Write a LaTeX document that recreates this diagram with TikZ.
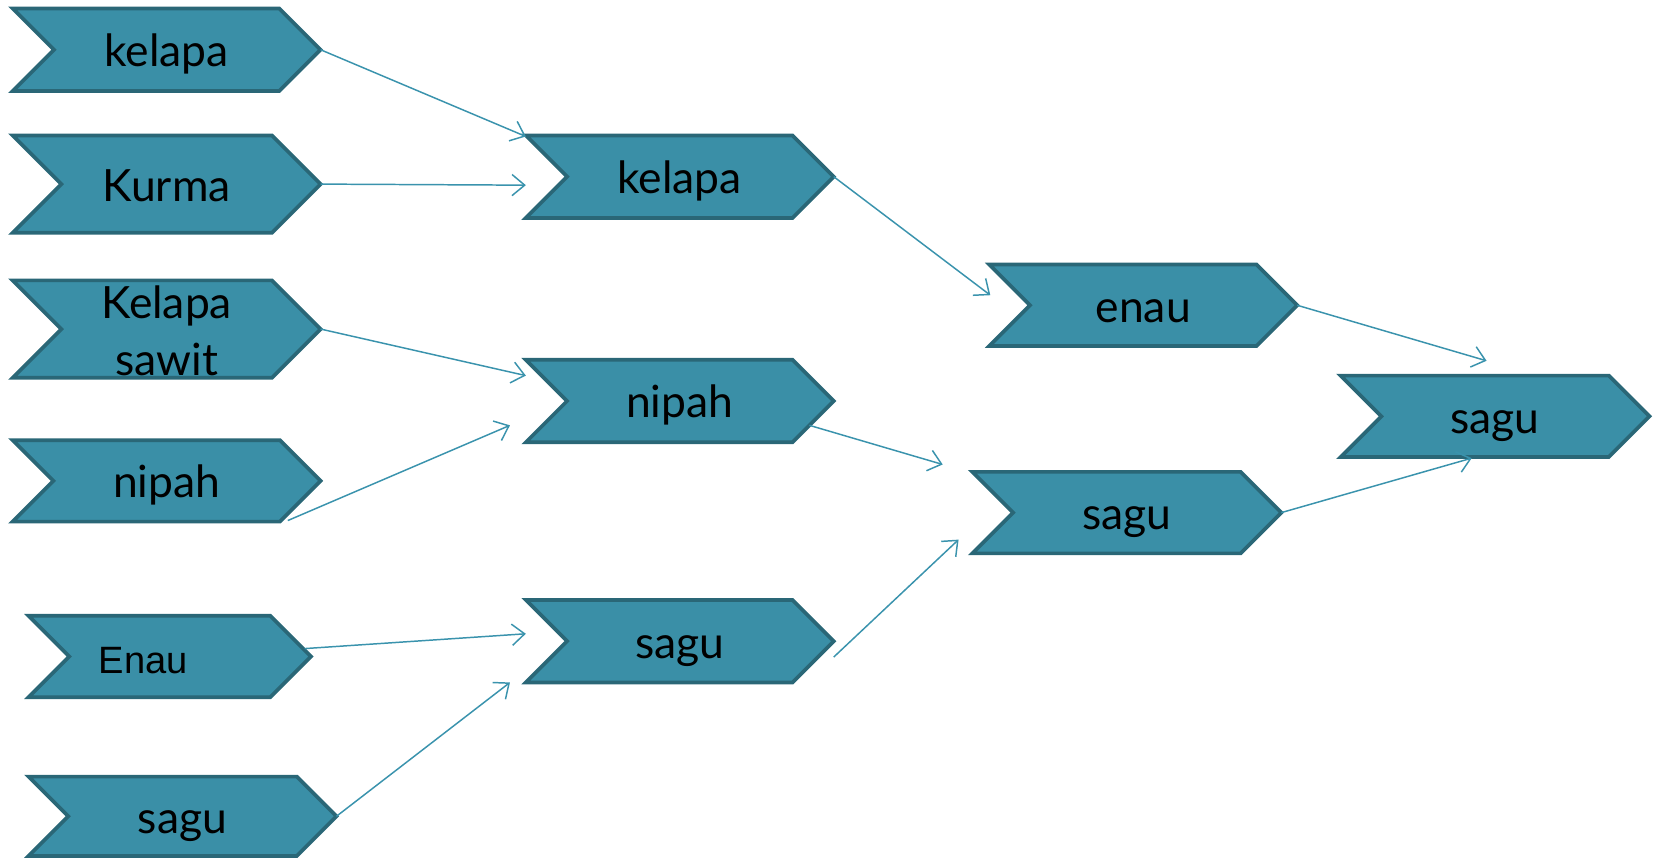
\documentclass[tikz,border=0pt]{standalone}
\usepackage{fontspec}
\setmainfont{Lato}
\newfontfamily\enaufont{Liberation Sans}
\usetikzlibrary{arrows.meta}

\definecolor{chevfill}{HTML}{3A8FA7}
\definecolor{chevline}{HTML}{2A6777}
\definecolor{linkcol}{HTML}{3A93AD}

\tikzset{
  chevshape/.style={fill=chevfill, draw=chevline, line width=3.5pt, line join=miter},
  chevlabel/.style={inner sep=0pt, text=black, align=center, anchor=base,
                    font=\fontsize{42}{54}\selectfont},
  link/.style={draw=linkcol, line width=1.4pt,
               -{Straight Barb[length=12pt,width=20pt]}}
}

% chevron: [label options]{name}{left}{top}{tip x}{bottom}{text}
% the label sits on a baseline 16pt below the middle of the chevron
\newcommand\chev[7][]{%
  \pgfmathsetmacro\chevhalf{(#6-#4)/2}%
  \draw[chevshape] (#3,#4) -- ({#5-\chevhalf},#4) -- (#5,{#4+\chevhalf})
    -- ({#5-\chevhalf},#6) -- (#3,#6) -- ({#3+\chevhalf},{#4+\chevhalf}) -- cycle;
  \node[chevlabel,#1] (#2) at ({(#3+#5)/2},{(#4+#6)/2+16}) {#7};
  \coordinate (#2-tip) at (#5,{#4+\chevhalf});
}

\begin{document}
\begin{tikzpicture}[x=1pt,y=-1pt]
\useasboundingbox (0,0) rectangle (1568,812);

% first column
\chev{b1}{12}{8}{303}{86}{kelapa}
\chev{b2}{12}{128}{303}{220}{Kurma}
\chev[anchor=center, yshift=14pt]{b3}{12}{265}{303}{357}{Kelapa\\sawit}
\chev{b4}{12}{416}{303}{493}{nipah}
\chev[font=\enaufont\fontsize{36}{40}\selectfont, xshift=-25pt]{b5}{27}{582}{294}{659}{Enau}
\chev{b6}{27}{734}{318}{809}{sagu}

% second column
\chev{c1}{497}{128}{788}{206}{kelapa}
\chev{c2}{497}{340}{788}{418}{nipah}
\chev{c3}{497}{567}{788}{645}{sagu}

% third column
\chev{d1}{935}{250}{1226}{327}{enau}
\chev{d2}{919}{446}{1211}{523}{sagu}

% last column
\chev{e1}{1267}{355}{1559}{432}{sagu}

% free ends of the connectors
\coordinate (a1e) at (497,129);
\coordinate (a2e) at (497,175);
\coordinate (a3e) at (497,355);
\coordinate (a4s) at (272,492);
\coordinate (a4e) at (482,402);
\coordinate (a5s) at (288,613);
\coordinate (a5e) at (497,599);
\coordinate (a6e) at (482,645);
\coordinate (a7e) at (936,279);
\coordinate (a8s) at (765,402);
\coordinate (a8e) at (891,439);
\coordinate (a9s) at (788,621);
\coordinate (a9e) at (906,510);
\coordinate (a10e) at (1405,341);
\coordinate (a11e) at (1391,433);

\draw[link] (b1-tip) -- (a1e);
\draw[link] (b2-tip) -- (a2e);
\draw[link] (b3-tip) -- (a3e);
\draw[link] (a4s) -- (a4e);
\draw[link] (a5s) -- (a5e);
\draw[link] (b6-tip) -- (a6e);
\draw[link] (c1-tip) -- (a7e);
\draw[link] (a8s) -- (a8e);
\draw[link] (a9s) -- (a9e);
\draw[link] (d1-tip) -- (a10e);
\draw[link] (d2-tip) -- (a11e);
\end{tikzpicture}
\end{document}
